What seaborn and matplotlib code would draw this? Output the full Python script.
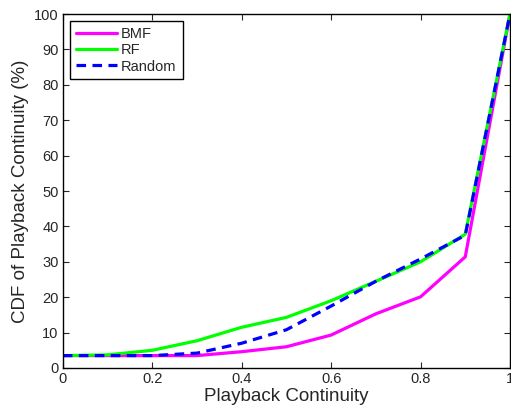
import matplotlib
matplotlib.use("Agg")
import matplotlib.pyplot as plt
import seaborn as sns
import pandas as pd

continuity = [0.0, 0.1, 0.2, 0.3, 0.4, 0.5, 0.6, 0.7, 0.8, 0.9, 1.0]
cdf_bmf = [3.5, 3.5, 3.5, 3.5, 4.6, 6.0, 9.3, 15.3, 20.1, 31.4, 100.0]
cdf_rf = [3.5, 3.7, 5.0, 7.7, 11.5, 14.3, 19.0, 24.5, 30.0, 37.8, 100.0]
cdf_random = [3.5, 3.5, 3.5, 4.2, 7.0, 10.8, 17.5, 24.5, 30.8, 37.5, 100.0]

series_names = ["BMF", "RF", "Random"]
series_colors = ["#ff00ff", "#00ff00", "#0000ff"]

df = pd.DataFrame({
    "x": continuity * 3,
    "y": cdf_bmf + cdf_rf + cdf_random,
    "method": ["BMF"] * len(continuity) + ["RF"] * len(continuity) + ["Random"] * len(continuity),
})

sns.set_style("white")
plt.rcParams["font.family"] = ["Liberation Sans", "DejaVu Sans"]

fig = plt.figure(figsize=(5.11, 4.13), dpi=100)
ax = fig.add_axes([0.123, 0.109, 0.875, 0.857])

sns.lineplot(data=df, x="x", y="y", hue="method", style="method",
             hue_order=series_names, style_order=series_names,
             palette=series_colors,
             dashes={"BMF": "", "RF": "", "Random": (3, 2)},
             linewidth=2.3, ax=ax, legend=True)

ax.set_xlim(0, 1)
ax.set_ylim(0, 100)
ax.set_xticks([0, 0.2, 0.4, 0.6, 0.8, 1])
ax.set_xticklabels(["0", "0.2", "0.4", "0.6", "0.8", "1"])
ax.set_yticks(range(0, 101, 10))
ax.tick_params(direction="in", length=4, width=0.8, labelsize=10.5,
               top=True, right=True, bottom=True, left=True, pad=3)
for s in ax.spines.values():
    s.set_visible(True)
    s.set_color("black")
    s.set_linewidth(1.0)

ax.set_xlabel("Playback Continuity", fontsize=13.5, labelpad=1)
ax.set_ylabel("CDF of Playback Continuity (%)", fontsize=13.5, labelpad=4)

leg = ax.legend(loc="upper left", fontsize=10.5, frameon=True, fancybox=False,
                edgecolor="black", framealpha=1, borderpad=0.4,
                handlelength=2.8, handletextpad=0.3, labelspacing=0.15,
                borderaxespad=0.5)
leg.get_frame().set_linewidth(1.0)

fig.savefig("out.png", dpi=100)
